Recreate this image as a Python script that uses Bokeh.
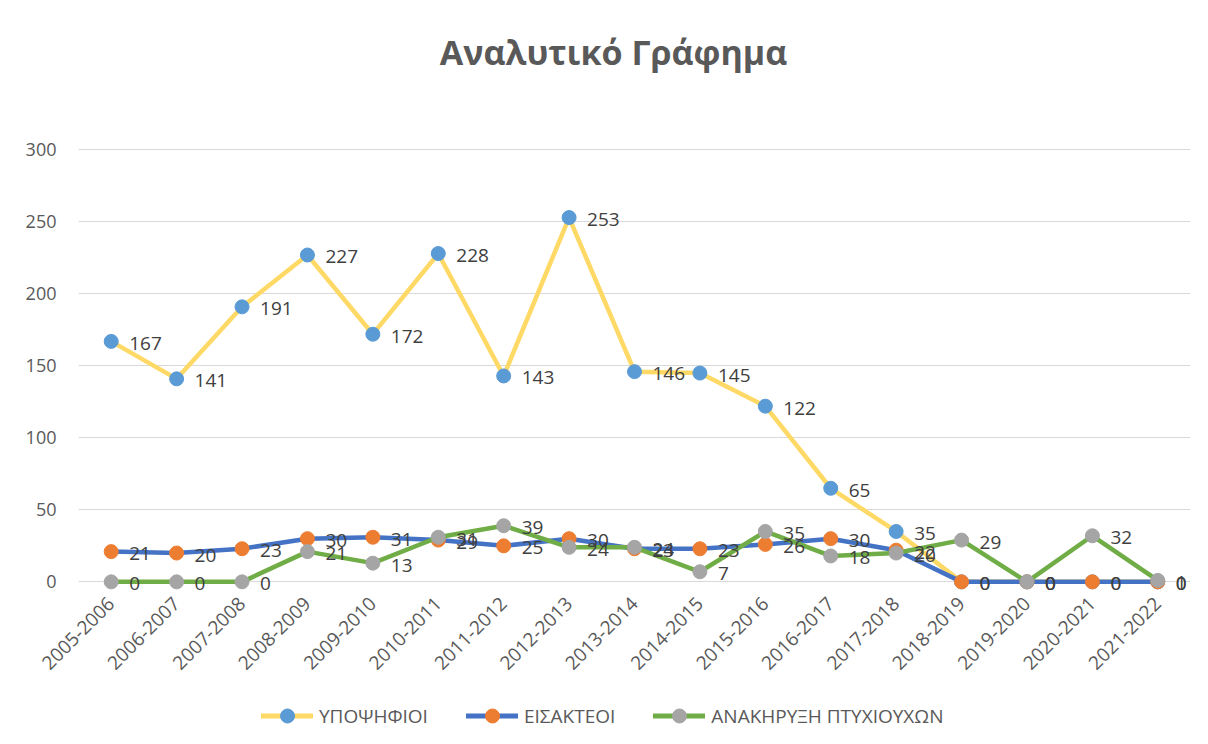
from bokeh.plotting import figure
from bokeh.models import (FactorRange, Range1d, FixedTicker, Legend, LegendItem,
                          ColumnDataSource, Label)
from bokeh.layouts import column
from bokeh.core.properties import value
from bokeh.embed import file_html
from bokeh.resources import INLINE
import math

categories = ["2005-2006", "2006-2007", "2007-2008", "2008-2009", "2009-2010",
              "2010-2011", "2011-2012", "2012-2013", "2013-2014", "2014-2015",
              "2015-2016", "2016-2017", "2017-2018", "2018-2019", "2019-2020",
              "2020-2021", "2021-2022"]
candidates = [167, 141, 191, 227, 172, 228, 143, 253, 146, 145, 122, 65, 35, 0, 0, 0, 0]
admitted = [21, 20, 23, 30, 31, 29, 25, 30, 23, 23, 26, 30, 22, 0, 0, 0, 0]
graduates = [0, 0, 0, 21, 13, 31, 39, 24, 24, 7, 35, 18, 20, 29, 0, 32, 1]
series_names = ["ΥΠΟΨΗΦΙΟΙ", "ΕΙΣΑΚΤΕΟΙ", "ΑΝΑΚΗΡΥΞΗ ΠΤΥΧΙΟΥΧΩΝ"]
y_ticks = [0, 50, 100, 150, 200, 250, 300]
title_text = "Αναλυτικό Γράφημα"

line_colors = ["#FFD966", "#4472C4", "#70AD47"]
marker_colors = ["#5B9BD5", "#ED7D31", "#A5A5A5"]
FONT = "Open Sans"
series_values = [candidates, admitted, graduates]

# main chart: the frame extends above the 300 gridline to hold the title
p = figure(width=1200, height=690, output_backend="svg", toolbar_location=None,
           x_range=FactorRange(factors=categories, range_padding=0),
           y_range=Range1d(-6, 396.8),
           min_border_left=78, min_border_right=10, min_border_top=10,
           min_border_bottom=100)
p.outline_line_color = None
p.xgrid.grid_line_color = None
p.ygrid.ticker = FixedTicker(ticks=y_ticks)
p.ygrid.grid_line_color = "#D9D9D9"
p.ygrid.grid_line_width = 1

p.yaxis.ticker = FixedTicker(ticks=y_ticks)
for ax in (p.xaxis[0], p.yaxis[0]):
    ax.axis_line_color = None
    ax.major_tick_line_color = None
    ax.minor_tick_line_color = None
    ax.major_label_text_color = "#595959"
    ax.major_label_text_font = FONT
p.yaxis.major_label_text_font_size = "18px"
p.yaxis.major_label_standoff = 16
p.xaxis.major_label_text_font_size = "19px"
p.xaxis.major_label_orientation = math.pi / 4
p.xaxis.major_label_standoff = 4

p.add_layout(Label(x=len(categories) / 2, y=y_ticks[-1] + 68, x_offset=-21,
                   text=title_text, text_align="center", text_baseline="middle",
                   text_font_size="34px", text_font_style="bold",
                   text_color="#595959", text_font=FONT))

sources = []
for vals, lc, mc in zip(series_values, line_colors, marker_colors):
    src = ColumnDataSource(dict(x=categories, y=vals, t=[str(v) for v in vals]))
    sources.append(src)
    p.line("x", "y", source=src, line_color=lc, line_width=4.5,
           line_join="round", line_cap="round")
    p.scatter("x", "y", source=src, size=14, fill_color=mc, line_color=mc)

for src in sources:
    p.text("x", "y", text="t", source=src, x_offset=18, y_offset=2,
           text_baseline="middle", text_align="left", text_color="#404040",
           text_font=value(FONT), text_font_size="19px")

# legend strip below the chart (same series, drawn outside its visible range)
leg = figure(width=1200, height=50, output_backend="svg", toolbar_location=None,
             x_range=FactorRange(factors=categories, range_padding=0),
             y_range=Range1d(-100, -99), min_border=0)
leg.axis.visible = False
leg.grid.visible = False
leg.outline_line_color = None
items = []
for name, src, lc, mc in zip(series_names, sources, line_colors, marker_colors):
    lr = leg.line("x", "y", source=src, line_color=lc, line_width=5, line_cap="round")
    sr = leg.scatter("x", "y", source=src, size=14, fill_color=mc, line_color=mc)
    items.append(LegendItem(label=name, renderers=[lr, sr]))
legend = Legend(items=items, orientation="horizontal", location=(183, 7),
                border_line_color=None, background_fill_alpha=0,
                glyph_width=52, glyph_height=35, label_text_font_size="19px",
                label_text_font=FONT, label_text_color="#595959",
                spacing=38, margin=0, padding=0, label_standoff=6)
leg.add_layout(legend, "center")

layout = column(p, leg, spacing=0)
open("out.html", "w").write(file_html(layout, INLINE))
